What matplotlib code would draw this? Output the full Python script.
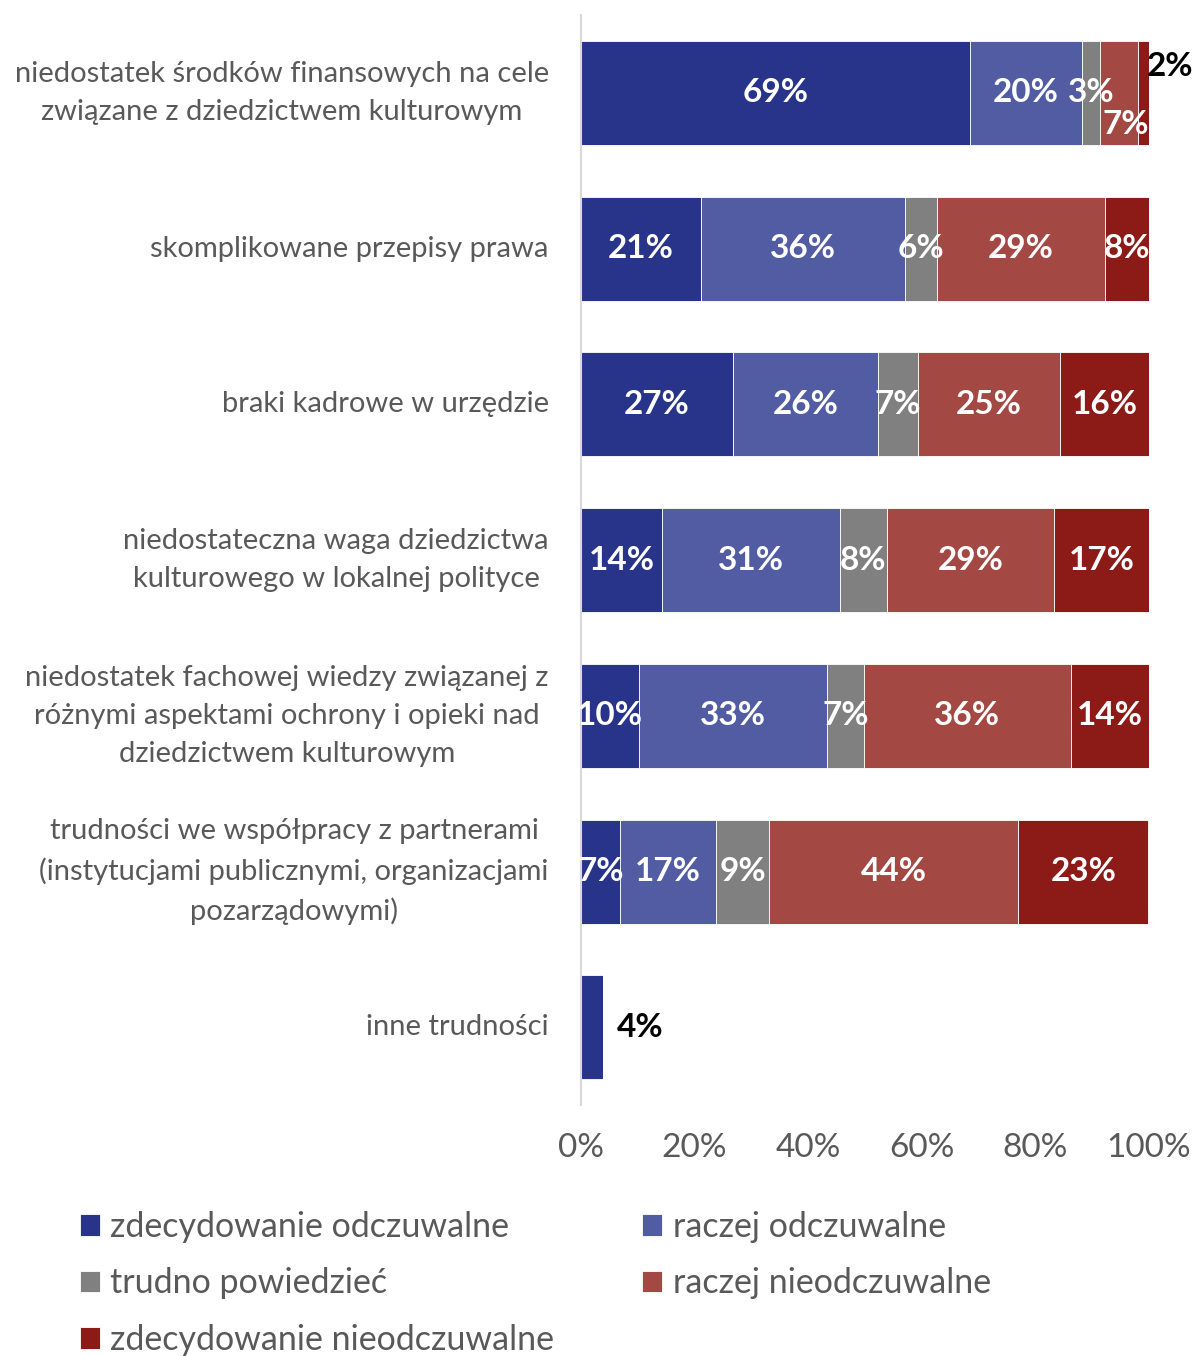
import matplotlib.pyplot as plt
import numpy as np

plt.rcParams["font.family"] = ["Lato", "DejaVu Sans"]

categories = [
    "niedostatek środków finansowych na cele\nzwiązane z dziedzictwem kulturowym",
    "skomplikowane przepisy prawa",
    "braki kadrowe w urzędzie",
    "niedostateczna waga dziedzictwa\nkulturowego w lokalnej polityce",
    "niedostatek fachowej wiedzy związanej z\nróżnymi aspektami ochrony i opieki nad\ndziedzictwem kulturowym",
    "trudności we współpracy z partnerami\n(instytucjami publicznymi, organizacjami\npozarządowymi)",
    "inne trudności",
]

series_names = [
    "zdecydowanie odczuwalne",
    "raczej odczuwalne",
    "trudno powiedzieć",
    "raczej nieodczuwalne",
    "zdecydowanie nieodczuwalne",
]

# widths, labels are the printed percentages
zdecydowanie_odcz = [68.5, 21.1, 26.8, 14.3, 10.2, 6.9, 3.9]
raczej_odcz = [19.7, 35.9, 25.5, 31.3, 33.1, 16.9, 0]
trudno = [3.2, 5.7, 7.0, 8.3, 6.5, 9.4, 0]
raczej_nieodcz = [6.6, 29.6, 25.0, 29.4, 36.4, 43.8, 0]
zdecydowanie_nieodcz = [2.0, 7.7, 15.7, 16.7, 13.8, 22.9, 0]

labels = [
    ["69%", "21%", "27%", "14%", "10%", "7%", "4%"],
    ["20%", "36%", "26%", "31%", "33%", "17%", ""],
    ["3%", "6%", "7%", "8%", "7%", "9%", ""],
    ["7%", "29%", "25%", "29%", "36%", "44%", ""],
    ["2%", "8%", "16%", "17%", "14%", "23%", ""],
]

colors = ["#28348A", "#515CA3", "#808080", "#A34843", "#8C1A17"]

series = [zdecydowanie_odcz, raczej_odcz, trudno, raczej_nieodcz, zdecydowanie_nieodcz]

LABEL_SIZE = 24

fig = plt.figure(figsize=(12, 13.56), dpi=100)
ax = fig.add_axes([0.484, 0.185, 0.4735, 0.804])

y = np.arange(len(categories))
left = np.zeros(len(categories))
for i, (vals, col) in enumerate(zip(series, colors)):
    vals = np.array(vals, dtype=float)
    bars = ax.barh(y, vals, left=left, height=0.668, color=col,
                   edgecolor="white", linewidth=0.6, label=series_names[i])
    for j, (bar, txt) in enumerate(zip(bars, labels[i])):
        if not txt:
            continue
        cx = bar.get_x() + bar.get_width() / 2
        cy = bar.get_y() + bar.get_height() / 2
        if i == 0 and j == 6:
            # label outside the short bar
            ax.annotate(txt, (bar.get_x() + bar.get_width(), cy), xytext=(10, 0),
                        textcoords="offset points", ha="left", va="center",
                        fontsize=LABEL_SIZE, fontweight="bold", color="black")
        elif i == 4 and j == 0:
            ax.annotate(txt, (cx, cy), xytext=(19, 19), textcoords="offset points",
                        ha="center", va="center", fontsize=LABEL_SIZE,
                        fontweight="bold", color="black")
        elif i == 3 and j == 0:
            ax.annotate(txt, (cx, cy), xytext=(5, -23), textcoords="offset points",
                        ha="center", va="center", fontsize=LABEL_SIZE,
                        fontweight="bold", color="white")
        else:
            ax.text(cx, cy, txt, ha="center", va="center", fontsize=LABEL_SIZE,
                    fontweight="bold", color="white")
    left += vals

ax.set_xlim(0, 100)
ax.set_ylim(len(categories) - 0.5, -0.5)
ax.set_xticks([0, 20, 40, 60, 80, 100])
ax.set_xticklabels(["0%", "20%", "40%", "60%", "80%", "100%"])
ax.set_yticks(y)
ax.set_yticklabels([])

# category names drawn as annotations so multi-line blocks sit centred on the bar
for yi, name in zip(y, categories):
    ax.annotate(name, (0, yi), xytext=(-23, 0), textcoords="offset points",
                ha="right", va="center", multialignment="center",
                linespacing=1.57, fontsize=21, color="#595959",
                annotation_clip=False)

ax.tick_params(axis="x", length=0, pad=20, labelsize=24, labelcolor="#595959")
ax.tick_params(axis="y", length=0)

for side in ["top", "right", "bottom"]:
    ax.spines[side].set_visible(False)
ax.spines["left"].set_color("#D9D9D9")
ax.spines["left"].set_linewidth(1.5)

handles, names = ax.get_legend_handles_labels()
order = [0, 2, 4, 1, 3]
fig.legend([handles[k] for k in order], [names[k] for k in order],
           loc="upper left", bbox_to_anchor=(0.055, 0.117), ncol=2,
           frameon=False, fontsize=24.5, labelcolor="#595959",
           handlelength=0.6, handleheight=0.6, handletextpad=0.3,
           labelspacing=0.72, columnspacing=2.58, borderaxespad=0)

fig.savefig("out.png", dpi=100)
